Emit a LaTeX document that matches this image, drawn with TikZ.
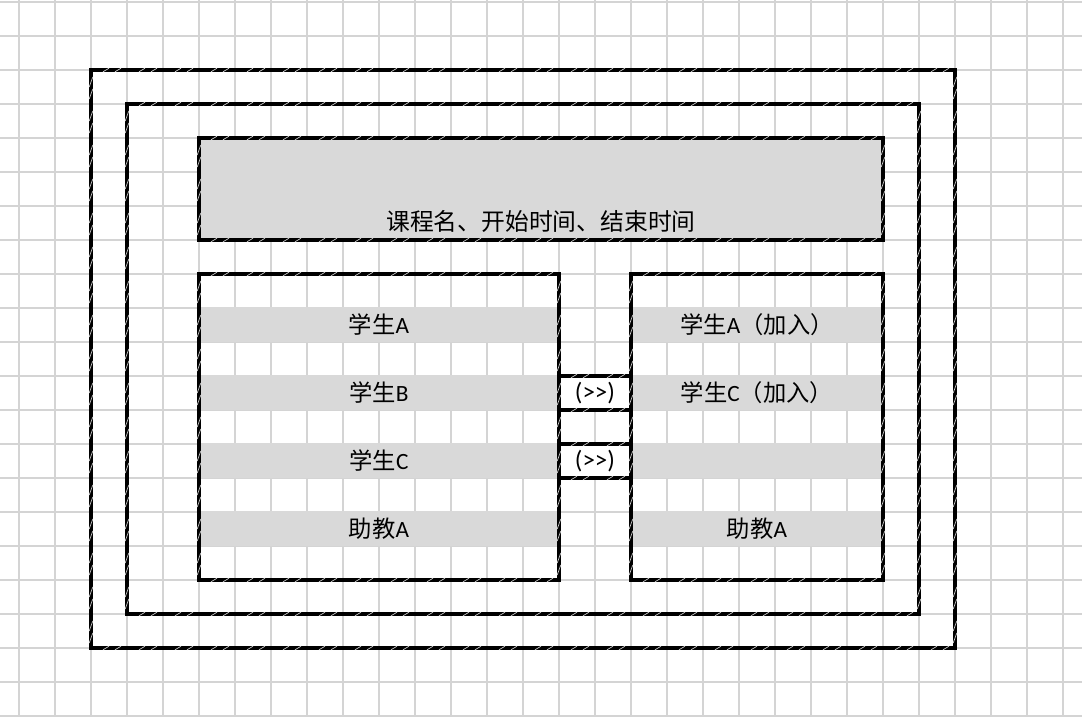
\documentclass[tikz,border=0pt]{standalone}
\usepackage{fontspec}
\setmainfont{Carlito}
\newfontfamily\cjk{Noto Sans CJK SC}
\definecolor{gridc}{RGB}{212,212,212}
\definecolor{bandc}{RGB}{217,217,217}
\definecolor{hatchc}{RGB}{205,205,205}
\newcommand\zh[1]{{\cjk #1}}
\tikzset{
  gridline/.style={draw=gridc, line width=2pt},
  bd/.style={draw=black, line width=4pt, line join=miter},
  ht/.style={draw=hatchc, line width=0.7pt},
  band/.style={fill=bandc, draw=none},
  whitecell/.style={fill=white, draw=none},
  lbl/.style={inner sep=0pt, font=\fontsize{23.3}{23.3}\selectfont},
  arr/.style={inner sep=0pt, font=\fontsize{25}{25}\selectfont},
  ttl/.style={inner sep=0pt, font=\fontsize{23.8}{23.8}\selectfont}
}
% horizontal hatch marks: x1, number of cells, y
\newcommand\hh[3]{%
  \foreach \k in {1,...,#2}{%
    \draw[ht] (#1+36*\k-36+15-3,#3+1.8) -- ++(6,-3.6);
    \draw[ht] (#1+36*\k-36+27-3,#3+1.8) -- ++(6,-3.6);
  }}
% vertical hatch marks: x, y1, number of cells
\newcommand\vh[3]{%
  \foreach \k in {1,...,#3}{%
    \draw[ht] (#1-1.8,#2+34*\k-34+12+5) -- ++(3.6,-10);
    \draw[ht] (#1-1.8,#2+34*\k-34+24+5) -- ++(3.6,-10);
  }}
% framed box: x1,y1,x2,y2,ncols,nrows
\newcommand\framebx[6]{%
  \draw[bd] (#1,#2) rectangle (#3,#4);
  \hh{#1}{#5}{#2}\hh{#1}{#5}{#4}\vh{#1}{#2}{#6}\vh{#3}{#2}{#6}}
\begin{document}
\begin{tikzpicture}[x=1pt,y=-1pt]
\useasboundingbox (0,0) rectangle (1082,716);
\fill[white] (0,0) rectangle (1082,716);
% grid
\foreach \i in {0,...,29}{\draw[gridline] (19+36*\i,0) -- (19+36*\i,716);}
\foreach \j in {0,...,21}{\draw[gridline] (0,2+34*\j) -- (1082,2+34*\j);}
% fills
\fill[band] (199,138) rectangle (883,240);
\foreach \y in {308,376,444,512}{
  \fill[band] (199,\y-1) rectangle (559,\y+34);
  \fill[band] (631,\y-1) rectangle (883,\y+34);
}
\fill[whitecell] (559,376) rectangle (631,410);
\fill[whitecell] (559,444) rectangle (631,478);
% frames
\framebx{91}{70}{955}{648}{24}{17}
\framebx{127}{104}{919}{614}{22}{15}
\framebx{199}{138}{883}{240}{19}{3}
\framebx{199}{274}{559}{580}{10}{9}
\framebx{631}{274}{883}{580}{7}{9}
\draw[bd] (559,376) -- (631,376) (559,410) -- (631,410);
\draw[bd] (559,444) -- (631,444) (559,478) -- (631,478);
\hh{559}{2}{376}\hh{559}{2}{410}\hh{559}{2}{444}\hh{559}{2}{478}
% texts
\node[ttl] (title) at (541,221) {\zh{课程名、开始时间、结束时间}};
\node[lbl] (la) at (379,325) {\zh{学生}A};
\node[lbl] (lb) at (379,393) {\zh{学生}B};
\node[lbl] (lc) at (379,461) {\zh{学生}C};
\node[lbl] (ld) at (379,529) {\zh{助教}A};
\node[lbl] (ra) at (757,325) {\zh{学生}A\zh{（加入）}};
\node[lbl] (rc) at (757,393) {\zh{学生}C\zh{（加入）}};
\node[lbl] (rd) at (757,529) {\zh{助教}A};
\node[arr] (m1) at (595,393) {(>\kern0pt>)};
\node[arr] (m2) at (595,461) {(>\kern0pt>)};
\end{tikzpicture}
\end{document}
